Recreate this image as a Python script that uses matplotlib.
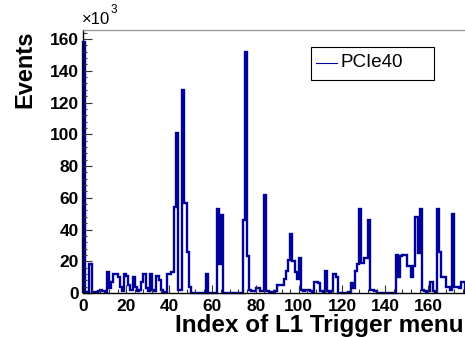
import numpy as np
import matplotlib
matplotlib.use('Agg')
import matplotlib.pyplot as plt
from matplotlib.patches import Rectangle
from matplotlib.lines import Line2D
from matplotlib.ticker import MultipleLocator

plt.rcParams['font.family'] = ['Liberation Sans', 'DejaVu Sans']

# events per L1 trigger menu index, in units of 10^3
counts = [
    158, 0.5, 0.3, 18, 0.6, 0.4, 0.5, 1.0, 2.0, 1.5,        # 0-9
    0.5, 13, 3, 7, 12, 12, 10, 4, 1.5, 12,                  # 10-19
    11, 5, 2, 10, 4, 1, 2, 7, 12, 3,                        # 20-29
    1, 12, 2, 1, 11, 8, 2, 0.5, 0.5, 12,                    # 30-39
    12, 13, 54, 101, 2, 2, 128, 57, 26, 4,                  # 40-49
    0, 0, 0, 0, 0, 0, 0, 12, 0, 0,                          # 50-59
    0, 0, 53, 18, 49, 0, 0, 0, 0, 0,                        # 60-69
    0, 0, 0, 0, 46, 152, 23, 2, 1, 1,                       # 70-79
    3, 3, 1, 1, 62, 1, 0.5, 0.5, 0.5, 1,                    # 80-89
    5, 5, 5, 9, 14, 21, 37, 20, 13, 9,                      # 90-99
    22, 2, 1, 2, 2, 1, 0.5, 7, 7, 6,                        # 100-109
    1, 0.5, 14, 1, 0.5, 1, 12, 10, 0, 0,                    # 110-119
    0, 0, 0, 0.5, 6, 3, 14, 18, 53, 19,                     # 120-129
    22, 22, 46, 2, 2, 1, 0, 0, 0, 0,                        # 130-139
    0, 0, 0, 0, 0, 24, 10, 23, 24, 24,                      # 140-149
    17, 17, 10, 17, 48, 25, 53, 2, 1, 0.5,                  # 150-159
    1, 7, 1, 0.5, 53, 26, 10, 10, 4, 4,                     # 160-169
    2, 50, 4, 4, 3, 7, 7,                                   # 170-176
]
edges = np.arange(len(counts) + 1)
legend_label = 'PCIe40'
x_title = 'Index of L1 Trigger menu'
y_title = 'Events'

W, H = 465, 337
fig = plt.figure(figsize=(W / 100, H / 100), dpi=100)
ax = fig.add_axes([83 / W, 1 - 293 / H, (W - 83) / W, 263 / H])

ax.stairs(counts, edges, baseline=0, color='#00009a', linewidth=1.7, clip_on=False)

ax.set_xlim(0, 177)
ax.set_ylim(0, 165.7)

ax.xaxis.set_major_locator(MultipleLocator(20))
ax.xaxis.set_minor_locator(MultipleLocator(4))
ax.yaxis.set_major_locator(MultipleLocator(20))
ax.yaxis.set_minor_locator(MultipleLocator(4))
ax.tick_params(which='both', direction='in', top=False, right=False, width=0.8, color='#333333')
ax.tick_params(axis='y', which='major', length=6.5, pad=3)
ax.tick_params(axis='y', which='minor', length=3.2)
ax.tick_params(axis='x', which='major', length=6, pad=4)
ax.tick_params(axis='x', which='minor', length=3)
for lab in ax.get_xticklabels() + ax.get_yticklabels():
    lab.set_fontweight('bold')
    lab.set_fontsize(12.5)

ax.spines['right'].set_visible(False)
ax.spines['top'].set_color('#999999')
ax.spines['top'].set_linewidth(1.0)
ax.spines['left'].set_linewidth(1.0)
ax.spines['bottom'].set_linewidth(1.0)

fig.text(25 / W, 1 - 31 / H, y_title, rotation=90, ha='center', va='top',
         fontsize=17, fontweight='bold')
fig.text(464 / W, 1 - 332 / H, x_title, ha='right', va='baseline',
         fontsize=17.5, fontweight='bold')

fig.text(82 / W, 1 - 19 / H, '×10', ha='left', va='center', fontsize=12)
fig.text(110.5 / W, 1 - 10 / H, '3', ha='left', va='center', fontsize=8.5)

# legend box
fig.patches.append(Rectangle((310.7 / W, 1 - 80 / H), 123.6 / W, 33.3 / H,
                             transform=fig.transFigure, facecolor='white',
                             edgecolor='black', linewidth=0.8))
fig.lines.append(Line2D([316 / W, 337 / W], [1 - 63 / H, 1 - 63 / H],
                        transform=fig.transFigure, color='#00009a', linewidth=0.8))
fig.text(341 / W, 1 - 62.5 / H, legend_label, ha='left', va='center', fontsize=13.5)

fig.savefig('out.png', dpi=100)
